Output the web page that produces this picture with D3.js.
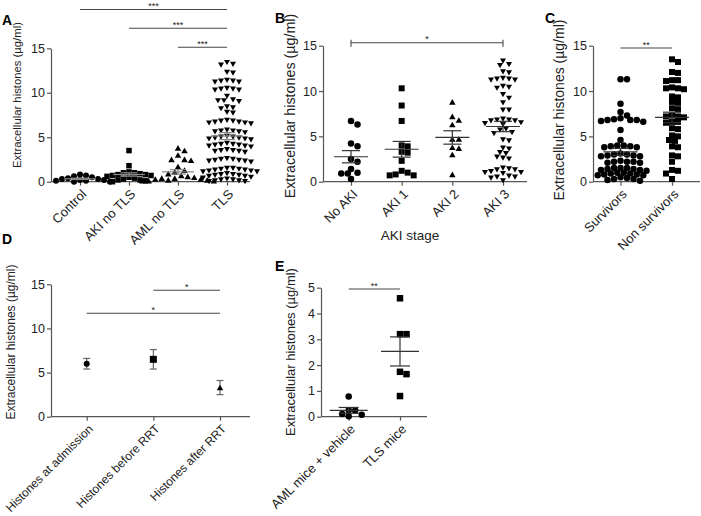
<!DOCTYPE html>
<html><head><meta charset="utf-8">
<script src="https://cdn.jsdelivr.net/npm/d3@7"></script>
<style>body{margin:0;background:#fff}</style>
</head><body><svg id="c" width="701" height="516"></svg>
<script>
// ---------------- DATA ----------------
const yTitle = "Extracellular histones (\u00b5g/ml)";
const catsA = ["Control", "AKI no TLS", "AML no TLS", "TLS"];
const controlA = [0.8, 0.7, 0.6, 0.5, 0.4, 0.3, 0.3, 0.2, 0.2, 0.1, 0.1, 0.0, 0.0];
const akiNoTlsA = [3.5, 1.8, 1.1, 1.0, 1.0, 0.9, 0.8, 0.7, 0.7, 0.6, 0.5, 0.4, 0.3, 0.2, 0.2, 0.1, 0.0, 0.8];
const amlNoTlsA = [3.7, 3.4, 2.9, 2.4, 2.4, 2.3, 1.6, 1.2, 1.0, 0.8, 0.6, 0.5, 0.4, 0.3, 0.2, 0.2, 0.1, 0.1, 0.0, 0.0, 0.0, 0.3];
const tlsA = [13.5, 13.3, 13.2, 12.4, 12.3, 11.5, 11.4, 11.4, 11.3, 11.3, 10.6, 10.5, 10.5, 10.4, 10.4, 9.7,
  9.3, 9.2, 9.2, 9.1, 8.5, 8.4, 8.3, 7.9, 7.8, 7.0, 6.9, 6.9, 6.8, 6.8, 6.7, 6.7, 6.6,
  5.9, 5.8, 5.8, 5.7, 5.7, 5.6, 5.2, 5.1, 5.1, 5.0, 5.0, 4.9, 4.9, 4.8,
  4.4, 4.3, 4.3, 4.2, 4.2, 4.1, 4.1, 4.0, 3.7, 3.6, 3.6, 3.5, 3.5, 3.4,
  2.7, 2.6, 2.6, 2.5, 2.5, 2.4, 2.4, 2.3, 1.6, 1.6, 1.5, 1.5, 1.4, 1.4, 1.3, 1.3, 1.2, 1.2,
  1.0, 0.9, 0.9, 0.8, 0.8, 0.7, 0.7, 0.6, 0.5, 0.4, 0.3, 0.3, 0.2, 0.2, 0.1, 0.1];
const sigA = [["Control", "TLS", "***"], ["AKI no TLS", "TLS", "***"], ["AML no TLS", "TLS", "***"]];

const catsB = ["No AKI", "AKI 1", "AKI 2", "AKI 3"];
const noAkiB = [6.7, 6.3, 4.2, 3.9, 2.5, 2.2, 1.4, 1.0, 0.9, 0.9, 0.3];
const aki1B = [10.3, 8.4, 6.7, 4.0, 3.9, 3.3, 3.2, 2.3, 1.2, 1.0, 0.8, 0.7, 0.7];
const aki2B = [8.7, 7.1, 6.7, 6.2, 4.6, 4.6, 3.7, 3.6, 2.9, 0.7];
const aki3B = [13.4, 13.0, 12.9, 12.2, 12.1, 11.5, 11.4, 11.4, 11.3, 11.3, 10.6, 10.5, 10.4, 9.7, 9.3, 8.8,
  8.0, 8.0, 7.0, 6.9, 6.9, 6.8, 6.8, 6.6, 6.5, 6.4, 5.9, 5.8, 5.5, 5.4, 4.7, 4.6, 3.8, 3.7, 3.3, 3.2,
  2.8, 2.7, 2.6, 1.6, 1.5, 1.4, 1.4, 1.2, 1.1, 1.1, 1.0, 0.7, 0.6, 0.6, 0.5, 0.2];
const sigB = [["No AKI", "AKI 3", "*"]];
const xTitleB = "AKI stage";

const catsC = ["Survivors", "Non survivors"];
const survivorsC = [11.3, 11.3, 8.6, 7.7, 7.3, 7.0, 6.9, 6.8, 6.8, 6.7, 6.6, 6.8, 5.7, 4.6,
  4.0, 3.9, 3.9, 3.8, 3.8, 4.0, 3.1, 3.0, 2.9, 2.9, 2.8, 2.8, 3.0, 2.3, 2.2, 2.2, 2.1, 2.1, 2.2,
  1.5, 1.5, 1.4, 1.4, 1.3, 1.3, 1.2, 1.5, 1.0, 0.9, 0.9, 0.8, 0.8, 0.7, 0.7, 1.0, 0.5, 0.4, 0.3, 0.3, 0.2, 0.1];
const nonSurvivorsC = [13.5, 13.2, 12.1, 12.0, 11.2, 11.1, 11.2, 10.3, 10.3, 10.2, 10.4, 9.4, 9.3, 8.8, 8.7,
  8.1, 8.0, 7.3, 7.2, 7.1, 7.2, 6.6, 6.5, 6.6, 5.9, 5.8, 5.1, 5.0, 4.6, 4.5, 3.9, 3.8, 2.9, 2.8, 2.2,
  1.3, 1.2, 0.9, 0.3];
const sigC = [["Survivors", "Non survivors", "**"]];

const catsD = ["Histones at admission", "Histones before RRT", "Histones after RRT"];
const meanD = [6.0, 6.5, 3.2];
const upperD = [6.6, 7.6, 4.1];
const lowerD = [5.4, 5.4, 2.5];
const sigD = [["Histones before RRT", "Histones after RRT", "*"], ["Histones at admission", "Histones after RRT", "*"]];

const catsE = ["AML mice + vehicle", "TLS mice"];
const amlMiceE = [0.78, 0.25, 0.24, 0.10, 0.02, 0.08];
const tlsMiceE = [4.59, 3.2, 3.2, 1.74, 1.65, 0.8];
const sigE = [["AML mice + vehicle", "TLS mice", "**"]];

const ticks15 = [0, 5, 10, 15];
const ticks5 = [0, 1, 2, 3, 4, 5];

// ---------------- DRAWING ----------------
const svg = d3.select("#c");
const FONT = '"Liberation Sans", Arial, Helvetica, sans-serif';
const AX = "#555", TXT = "#222";

function swarm(vals, y, cx, d) {
  const pts = vals.map(v => ({ v, py: y(v) })).sort((a, b) => a.py - b.py);
  const placed = [];
  const step = d * 0.5;
  const lim = (d * 0.85) ** 2;
  for (const p of pts) {
    for (let k = 0; k < 300; k++) {
      const off = k === 0 ? 0 : (k % 2 ? 1 : -1) * Math.ceil(k / 2) * step;
      const ok = placed.every(q => (q.px - (cx + off)) ** 2 + (q.py - p.py) ** 2 >= lim);
      if (ok) { p.px = cx + off; break; }
    }
    placed.push(p);
  }
  return placed;
}

function symPath(type, size) {
  const t = { circle: d3.symbolCircle, square: d3.symbolSquare, triangle: d3.symbolTriangle, triangleDown: d3.symbolTriangle }[type];
  let area;
  if (type === "circle") area = Math.PI * size * size / 4;
  else if (type === "square") area = size * size;
  else area = Math.sqrt(3) / 4 * size * size;
  return d3.symbol().type(t).size(area)();
}

function panel(cfg) {
  const g = svg.append("g");
  const y = d3.scaleLinear().domain([0, cfg.yMax]).range([cfg.y0, cfg.y1]);
  const x = d3.scalePoint().domain(cfg.cats).range(cfg.xr);

  // y axis
  const ya = g.append("g").attr("transform", `translate(${cfg.ax},0)`)
    .call(d3.axisLeft(y).tickValues(cfg.yTicks).tickFormat(d3.format("d")).tickSize(4).tickPadding(2).tickSizeOuter(0));
  ya.select(".domain").attr("stroke", AX).attr("stroke-width", 1.2);
  ya.selectAll(".tick line").attr("stroke", AX).attr("stroke-width", 1.2);
  ya.selectAll(".tick text").attr("font-family", FONT).attr("font-size", cfg.tickFont || 12.5).attr("fill", TXT);

  // x axis line
  g.append("line").attr("x1", cfg.ax).attr("x2", cfg.axEnd).attr("y1", cfg.y0).attr("y2", cfg.y0)
    .attr("stroke", AX).attr("stroke-width", 1.2);
  const xa = g.append("g").attr("transform", `translate(0,${cfg.y0})`)
    .call(d3.axisBottom(x).tickSize(4).tickSizeOuter(0));
  xa.select(".domain").remove();
  xa.selectAll(".tick line").attr("stroke", AX).attr("stroke-width", 1.2);
  xa.selectAll(".tick text").remove();
  cfg.cats.forEach(c => {
    g.append("text").attr("transform", `translate(${x(c) + 4},${cfg.y0 + 10}) rotate(-45)`)
      .attr("text-anchor", "end").attr("dy", "0.35em")
      .attr("font-family", FONT).attr("font-size", cfg.xFont || 13).attr("fill", TXT).text(c);
  });

  // y title
  g.append("text").attr("transform", `translate(${cfg.titleX},${cfg.titleY}) rotate(-90)`)
    .attr("text-anchor", "middle").attr("font-family", FONT).attr("font-size", cfg.titleFont || 12)
    .attr("fill", TXT).text(yTitle);

  // panel letter
  g.append("text").attr("x", cfg.letterX).attr("y", cfg.letterY).attr("font-family", FONT)
    .attr("font-weight", "bold").attr("font-size", 14).attr("fill", "#000").text(cfg.letter);

  // series
  (cfg.series || []).forEach(s => {
    const cx = x(s.cat);
    const pts = swarm(s.vals, y, cx, s.size);
    const path = symPath(s.sym, s.size);
    g.append("g").selectAll("path").data(pts).join("path")
      .attr("d", path)
      .attr("transform", d => `translate(${d.px},${d.py})${s.sym === "triangleDown" ? " rotate(180)" : ""}`)
      .attr("fill", "#000");
    const m = d3.mean(s.vals);
    const sem = d3.deviation(s.vals) / Math.sqrt(s.vals.length);
    const lc = cfg.meanColor || "#333";
    const mw = cfg.meanW || 17, sw = cfg.semW || 9;
    const mg = g.append("g").attr("stroke", lc).attr("stroke-width", 1.2);
    mg.append("line").attr("x1", cx - mw).attr("x2", cx + mw).attr("y1", y(m)).attr("y2", y(m));
    mg.append("line").attr("x1", cx - sw).attr("x2", cx + sw).attr("y1", y(m + sem)).attr("y2", y(m + sem));
    mg.append("line").attr("x1", cx - sw).attr("x2", cx + sw).attr("y1", y(m - sem)).attr("y2", y(m - sem));
    mg.append("line").attr("x1", cx).attr("x2", cx).attr("y1", y(m + sem)).attr("y2", y(m - sem));
  });

  // mean +/- error (panel D)
  (cfg.errs || []).forEach(e => {
    const cx = x(e.cat);
    const eg = g.append("g").attr("stroke", "#666").attr("stroke-width", 1.2);
    eg.append("line").attr("x1", cx).attr("x2", cx).attr("y1", y(e.hi)).attr("y2", y(e.lo));
    eg.append("line").attr("x1", cx - 3.5).attr("x2", cx + 3.5).attr("y1", y(e.hi)).attr("y2", y(e.hi));
    eg.append("line").attr("x1", cx - 3.5).attr("x2", cx + 3.5).attr("y1", y(e.lo)).attr("y2", y(e.lo));
    g.append("path").attr("d", symPath(e.sym, e.size)).attr("transform", `translate(${cx},${y(e.m)})`).attr("fill", "#000");
  });

  // significance
  (cfg.sig || []).forEach((s, i) => {
    const ly = cfg.sigY[i];
    const x1 = x(s[0]), x2 = x(s[1]);
    const sg = g.append("g").attr("stroke", "#444").attr("stroke-width", 1.1);
    sg.append("line").attr("x1", x1).attr("x2", x2).attr("y1", ly).attr("y2", ly);
    if (cfg.sigBracket) {
      sg.append("line").attr("x1", x1).attr("x2", x1).attr("y1", ly - 3).attr("y2", ly + 4);
      sg.append("line").attr("x1", x2).attr("x2", x2).attr("y1", ly - 3).attr("y2", ly + 4);
    }
    g.append("text").attr("x", (x1 + x2) / 2).attr("y", ly - 0.5).attr("text-anchor", "middle")
      .attr("font-family", FONT).attr("font-size", 9).attr("fill", TXT).text(s[2]);
  });

  if (cfg.xTitle) {
    g.append("text").attr("x", cfg.xTitleX).attr("y", cfg.xTitleY).attr("text-anchor", "middle")
      .attr("font-family", FONT).attr("font-size", 13.5).attr("fill", TXT).text(cfg.xTitle);
  }
  return { x, y };
}

// Panel A
panel({
  letter: "A", letterX: 2, letterY: 25,
  cats: catsA, xr: [80, 227], ax: 51, axEnd: 250, y0: 181.7, y1: 48.3, yMax: 15, yTicks: ticks15,
  titleX: 21, titleY: 95, titleFont: 11.3,
  meanColor: "#888", meanW: 16, semW: 8,
  series: [
    { cat: "Control", vals: controlA, sym: "circle", size: 6 },
    { cat: "AKI no TLS", vals: akiNoTlsA, sym: "square", size: 5.5 },
    { cat: "AML no TLS", vals: amlNoTlsA, sym: "triangle", size: 6.5 },
    { cat: "TLS", vals: tlsA, sym: "triangleDown", size: 6 }
  ],
  sig: sigA, sigY: [9.5, 28.3, 47.3]
});

// Panel B
panel({
  letter: "B", letterX: 275, letterY: 23,
  cats: catsB, xr: [351, 503], ax: 323, axEnd: 527, y0: 181.7, y1: 45.7, yMax: 15, yTicks: ticks15,
  titleX: 295, titleY: 106, titleFont: 14.3,
  meanColor: "#333", meanW: 17, semW: 9,
  series: [
    { cat: "No AKI", vals: noAkiB, sym: "circle", size: 6.5 },
    { cat: "AKI 1", vals: aki1B, sym: "square", size: 6 },
    { cat: "AKI 2", vals: aki2B, sym: "triangle", size: 6.5 },
    { cat: "AKI 3", vals: aki3B, sym: "triangleDown", size: 6 }
  ],
  sig: sigB, sigY: [42.7], sigBracket: true,
  xTitle: xTitleB, xTitleX: 410, xTitleY: 240
});

// Panel C
panel({
  letter: "C", letterX: 545, letterY: 23,
  cats: catsC, xr: [620.5, 672], ax: 593, axEnd: 700, y0: 181.7, y1: 45.7, yMax: 15, yTicks: ticks15,
  titleX: 564, titleY: 110, titleFont: 14,
  meanColor: "#333", meanW: 17, semW: 9,
  series: [
    { cat: "Survivors", vals: survivorsC, sym: "circle", size: 6.5 },
    { cat: "Non survivors", vals: nonSurvivorsC, sym: "square", size: 6 }
  ],
  sig: sigC, sigY: [48]
});

// Panel D
panel({
  letter: "D", letterX: 2, letterY: 244,
  cats: catsD, xr: [86.7, 220], ax: 51, axEnd: 250, y0: 416.7, y1: 284.3, yMax: 15, yTicks: ticks15,
  titleX: 15, titleY: 342, titleFont: 12, xFont: 12,
  errs: catsD.map((c, i) => ({ cat: c, m: meanD[i], hi: upperD[i], lo: lowerD[i], sym: ["circle", "square", "triangle"][i], size: [6, 7, 6.5][i] })),
  sig: sigD, sigY: [290.3, 313.3]
});

// Panel E
panel({
  letter: "E", letterX: 275, letterY: 271,
  cats: catsE, xr: [348.7, 400], ax: 321, axEnd: 427, y0: 416.7, y1: 287.7, yMax: 5, yTicks: ticks5,
  titleX: 295, titleY: 352, titleFont: 13,
  meanColor: "#333", meanW: 19, semW: 10,
  series: [
    { cat: "AML mice + vehicle", vals: amlMiceE, sym: "circle", size: 6.5 },
    { cat: "TLS mice", vals: tlsMiceE, sym: "square", size: 6.5 }
  ],
  sig: sigE, sigY: [289]
});
</script>
</body></html>
